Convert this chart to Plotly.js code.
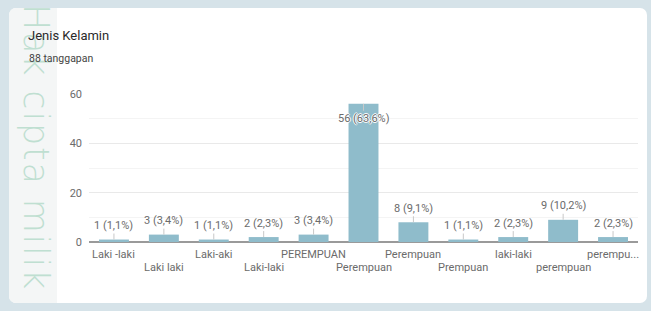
<!DOCTYPE html>
<html>
<head>
<meta charset="utf-8">
<script src="https://cdn.plot.ly/plotly-3.0.1.min.js"></script>
<style>
  html, body { margin: 0; padding: 0; width: 651px; height: 311px; overflow: hidden; background: #d6e3e9; }
  #card { position: absolute; left: 9px; top: 8px; width: 638px; height: 295px; background: #ffffff; border-radius: 7px; }
  #strip { position: absolute; left: 9px; top: 8px; width: 48px; height: 295px; background: #f4f6f6; border-radius: 7px 0 0 7px; }
  #wm { position: absolute; left: 35px; top: 4px; transform-origin: 0 0; transform: rotate(90deg) translate(0, -50%);
        font-family: "DejaVu Sans", Roboto, sans-serif; font-weight: 200; font-size: 35px; letter-spacing: 1.8px;
        color: #bfdfd1; white-space: nowrap; line-height: 1; }
  #chart { position: absolute; left: 0; top: 0; width: 651px; height: 311px; }
</style>
</head>
<body>
<div id="card"></div>
<div id="strip"></div>
<div id="wm">Hak cipta milik</div>
<div id="chart"></div>
<script>
const chartTitle = "Jenis Kelamin";
const responses = "88 tanggapan";
const categories = ["Laki -laki", "Laki laki", "Laki-aki", "Laki-laki", "PEREMPUAN", "Perempuan", "Perempuan", "Prempuan", "laki-laki", "perempuan", "perempu..."];
const counts = [1, 3, 1, 2, 3, 56, 8, 1, 2, 9, 2];
const yTicks = [0, 20, 40, 60];

const total = counts.reduce((a, b) => a + b, 0);
const xs = categories.map((_, i) => i);
const maxCount = Math.max(...counts);

const annotations = [];
counts.forEach((v, i) => {
  const pct = (v / total * 100).toFixed(1).replace('.', ',');
  const inside = v === maxCount;
  annotations.push({
    x: i, y: v, xref: 'x', yref: 'y',
    text: v + ' (' + pct + '%)',
    showarrow: true, arrowhead: 0, arrowwidth: 1, arrowcolor: '#c8c8c8',
    ax: 0, ay: inside ? 15 : -14,
    font: { family: 'Roboto, Arial, sans-serif', size: 11, color: '#6b6b6b',
            shadow: inside ? '1px 0 0 #fff, -1px 0 0 #fff, 0 1px 0 #fff, 0 -1px 0 #fff' : 'none' }
  });
});
categories.forEach((c, i) => {
  annotations.push({
    x: i, y: 0, xref: 'x', yref: 'y', text: c, showarrow: false,
    yanchor: 'middle', xanchor: 'center', yshift: (i % 2 === 0) ? -12 : -25,
    font: { family: 'Roboto, Arial, sans-serif', size: 11, color: '#6b6b6b' }
  });
});
annotations.push({
  xref: 'paper', yref: 'paper', x: (27 - 89) / 549, y: (242 - 58) / 148,
  xanchor: 'left', yanchor: 'middle', showarrow: false, text: responses,
  font: { family: 'Roboto, Arial, sans-serif', size: 10.5, color: '#444' }
});

const data = [{
  type: 'bar', x: xs, y: counts,
  marker: { color: '#8fbccb' },
  hoverinfo: 'none'
}];

const layout = {
  width: 651, height: 311,
  margin: { l: 89, r: 13, t: 94, b: 69 },
  paper_bgcolor: 'rgba(0,0,0,0)', plot_bgcolor: 'rgba(0,0,0,0)',
  bargap: 0.4,
  showlegend: false,
  title: { text: chartTitle, xref: 'container', yref: 'container', x: 28 / 651, y: 1 - 35 / 311,
           xanchor: 'left', yanchor: 'middle',
           font: { family: 'Roboto, Arial, sans-serif', size: 13, color: '#2a2a2a' } },
  xaxis: { range: [-0.5, categories.length - 0.5], showticklabels: false, showgrid: false, zeroline: false, fixedrange: true },
  yaxis: { range: [0, 60], tickvals: yTicks, showgrid: true, gridcolor: '#e9e9e9', gridwidth: 1,
           minor: { dtick: 10, showgrid: true, gridcolor: '#f4f4f4' },
           zeroline: true, zerolinecolor: '#9a9a9a', zerolinewidth: 1.5,
           ticks: '', ticklabelstandoff: 6,
           tickfont: { family: 'Roboto, Arial, sans-serif', size: 11, color: '#6b6b6b' } },
  annotations: annotations
};

Plotly.newPlot('chart', data, layout, { displayModeBar: false, staticPlot: true });
</script>
</body>
</html>
